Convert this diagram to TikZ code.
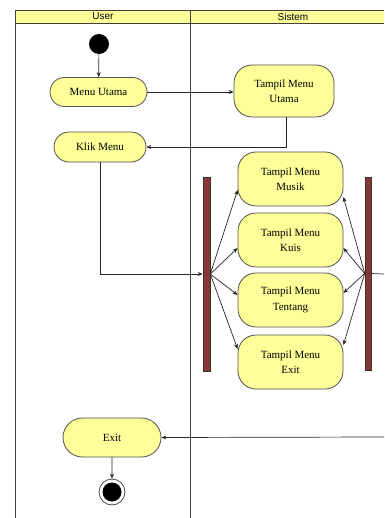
\documentclass[tikz,border=0pt]{standalone}
\usepackage{fontspec}
\setmainfont{Liberation Serif}
\setsansfont{Liberation Sans}
\usetikzlibrary{arrows.meta,shapes.misc}
\definecolor{actfill}{HTML}{FFFF99}
\definecolor{hdrfill}{HTML}{FFFF99}
\definecolor{actline}{HTML}{505050}
\definecolor{barfill}{HTML}{8B3535}
\begin{document}
\begin{tikzpicture}[x=1pt,y=-1pt,
  lane/.style={draw=black!75, line width=0.9pt},
  pill/.style={rounded rectangle, draw=actline, fill=actfill, line width=0.8pt,
    font=\fontsize{11}{15.5}\selectfont, inner sep=0pt},
  actbox/.style={rectangle, rounded corners=18pt, draw=actline, fill=actfill, line width=0.8pt,
    minimum width=105pt, minimum height=54pt, align=center,
    font=\fontsize{11}{15.5}\selectfont, inner sep=0pt},
  syncbar/.style={rectangle, draw=black!80, fill=barfill, line width=0.6pt, inner sep=0pt},
  arr/.style={draw=black!85, line width=0.7pt, -{Stealth[length=5pt,width=4pt]}},
  plain/.style={draw=black!85, line width=0.7pt},
  hdr/.style={font=\sffamily\fontsize{10}{12}\selectfont}
]
\useasboundingbox (0,0) rectangle (384,518);
% swimlanes
\fill[hdrfill] (15,10) rectangle (384,23);
\draw[lane] (15,518) -- (15,10) -- (384,10);
\draw[lane] (15,23) -- (384,23);
\draw[lane] (190,10) -- (190,518);
\node[hdr] (huser) at (103,16.5) {User};
\node[hdr] (hsis) at (293,16.5) {Sistem};

% nodes
\node[circle, fill=black, minimum size=20pt, inner sep=0pt] (start) at (99,44) {};
\node[pill, minimum width=97pt, minimum height=29pt] (mu) at (98.5,92) {Menu Utama};
\node[actbox, minimum width=100pt, minimum height=52pt] (tmu) at (284,91) {Tampil Menu\\Utama};
\node[pill, minimum width=92pt, minimum height=30pt] (km) at (100,147) {Klik Menu};
\node[syncbar, minimum width=7pt, minimum height=194pt] (forkL) at (206.5,274) {};
\node[syncbar, minimum width=6pt, minimum height=193pt] (forkR) at (368,273.5) {};
\node[actbox] (musik) at (290.5,179) {Tampil Menu\\Musik};
\node[actbox] (kuis) at (290.5,240) {Tampil Menu\\Kuis};
\node[actbox] (tentang) at (290.5,300) {Tampil Menu\\Tentang};
\node[actbox] (texit) at (290.5,362) {Tampil Menu\\Exit};
\node[pill, minimum width=98pt, minimum height=39pt] (uexit) at (112,437.5) {Exit};
\node[circle, draw=black!70, fill=white, line width=0.8pt, minimum size=26pt, inner sep=0pt] (endo) at (112,492) {};
\node[circle, fill=black, minimum size=19pt, inner sep=0pt] (endi) at (112,492) {};
\coordinate (rightA) at (384,274);
\coordinate (rightB) at (384,437);

% connectors
\draw[arr] (start) -- (mu);
\draw[arr] (mu.east) -- (mu.east -| tmu.west);
\draw[arr] ([xshift=2pt]tmu.south) |- (km.east);
\draw[arr] (km.south) |- (forkL.west);
\draw[arr] (forkL.east) -- ([yshift=-11pt]musik.west);
\draw[arr] (forkL.east) -- ([yshift=-8pt]kuis.west);
\draw[arr] (forkL.east) -- ([yshift=5pt]tentang.west);
\draw[arr] (forkL.east) -- ([yshift=13pt]texit.west);
\draw[arr] (forkR.west) -- ([yshift=-18pt]musik.east);
\draw[arr] (forkR.west) -- ([yshift=-8pt]kuis.east);
\draw[arr] (forkR.west) -- ([yshift=7pt]tentang.east);
\draw[arr] (forkR.west) -- ([yshift=17pt]texit.east);
\draw[plain] (forkR.east) -- (rightA);
\draw[arr] (rightB) -- (uexit.east);
\draw[arr] (uexit) -- (endo);
\end{tikzpicture}
\end{document}
